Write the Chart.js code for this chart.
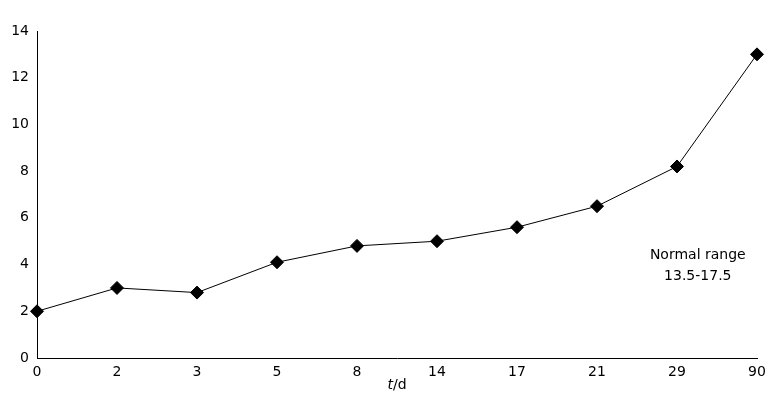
<!DOCTYPE html><html><head><meta charset="utf-8">
<script src="https://cdn.jsdelivr.net/npm/chart.js@4"></script>
<style>html,body{margin:0;padding:0;background:#fff}#w{width:776px;height:419px}</style></head><body>
<div id="w"><canvas id="c"></canvas></div>
<script>
const categories=["0","2","3","5","8","14","17","21","29","90"];
const values=[2.0,3.0,2.8,4.1,4.8,5.0,5.6,6.5,8.2,13.0];
const yTicks=[0,2,4,6,8,10,12,14];
const noteLines=["Normal range","13.5-17.5"];
const F='"DejaVu Sans", Verdana, sans-serif';
const extra={id:'extra',afterDraw(ch){const c=ch.ctx;c.save();c.fillStyle='#000';c.font='14px '+F;c.textAlign='center';c.textBaseline='middle';
const xs=ch.scales.x,ys=ch.scales.y;
const nx=xs.getPixelForValue(8)+(xs.getPixelForValue(9)-xs.getPixelForValue(8))*0.26;
c.fillText(noteLines[0],nx,ys.getPixelForValue(4.4));c.fillText(noteLines[1],nx,ys.getPixelForValue(3.5));
const tx=(ch.chartArea.left+ch.chartArea.right)/2, ty=ch.chartArea.bottom+27;
c.textAlign='left';c.font='italic 14px '+F;const w1=c.measureText('t').width;c.font='14px '+F;const w2=c.measureText('/d').width;
const sx=tx-(w1+w2)/2;c.font='italic 14px '+F;c.fillText('t',sx,ty);c.font='14px '+F;c.fillText('/d',sx+w1,ty);c.restore();}};
new Chart(document.getElementById('c'),{type:'line',data:{labels:categories,datasets:[{data:values,borderColor:'#000',borderWidth:1,pointStyle:'rectRot',pointRadius:6.5,pointBackgroundColor:'#000',pointBorderColor:'#000',tension:0}]},
options:{responsive:true,maintainAspectRatio:false,animation:false,layout:{padding:{top:31,right:19,left:0,bottom:0}},
plugins:{legend:{display:false},tooltip:{enabled:false}},
scales:{x:{offset:false,grid:{display:false,drawTicks:true,tickLength:5},border:{color:'#000'},ticks:{color:'#000',font:{family:F,size:14},maxRotation:0,padding:1},afterFit(s){s.height=61;}},
y:{min:0,max:14,afterBuildTicks(s){s.ticks=yTicks.map(v=>({value:v}));},grid:{display:false,tickLength:5},border:{color:'#000'},ticks:{color:'#000',font:{family:F,size:14},padding:3},afterFit(s){s.width=37;}}}},plugins:[extra]});
</script></body></html>
